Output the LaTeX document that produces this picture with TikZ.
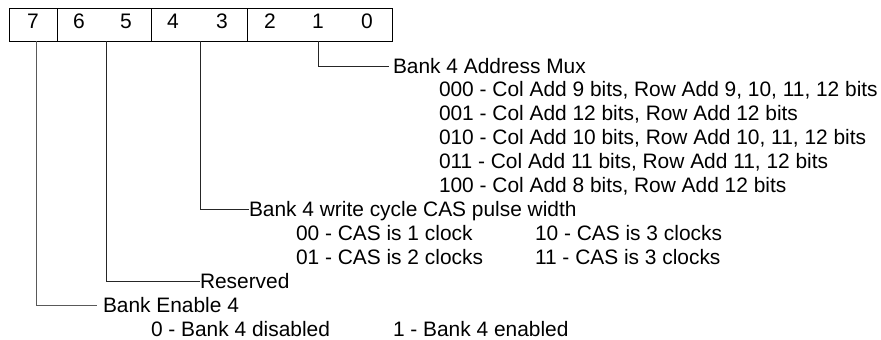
\documentclass[tikz,border=0pt]{standalone}
\usepackage{fontspec}
\setmainfont{Liberation Sans}
\tikzset{
  lbl/.style={anchor=base west, inner sep=0pt, outer sep=0pt, text height=14.9pt, text depth=0pt,
    font=\fontsize{20.9}{24}\selectfont},
  bitnum/.style={anchor=base, inner sep=0pt, font=\fontsize{21}{24}\selectfont},
  wire/.style={line width=0.9pt, black!85},
  boxline/.style={line width=0.9pt, black}
}
\begin{document}
\begin{tikzpicture}[x=1pt,y=-1pt]
\useasboundingbox (0,0) rectangle (881,340);
% register box
\draw[boxline] (9,8) rectangle (392,41);
\draw[boxline] (57,8) -- (57,41) (151,8) -- (151,41) (247,8) -- (247,41);
\node[bitnum] (d7) at (33,28.5) {7};
\node[bitnum] (d6) at (79,28.5) {6};
\node[bitnum] (d5) at (126,28.5) {5};
\node[bitnum] (d4) at (173,28.5) {4};
\node[bitnum] (d3) at (222,28.5) {3};
\node[bitnum] (d2) at (270,28.5) {2};
\node[bitnum] (d1) at (318,28.5) {1};
\node[bitnum] (d0) at (367,28.5) {0};
\coordinate (b7) at (36,41);
\coordinate (b65) at (106,41);
\coordinate (b43) at (200,41);
\coordinate (b20) at (318,41);
% Bank 4 Address Mux
\node[lbl] (mux) at (393,73.4) {Bank 4 Address Mux};
\node[lbl] (m0) at (439,96.4) {000 - Col Add 9 bits, Row Add 9, 10, 11, 12 bits};
\node[lbl] (m1) at (439,120.4) {001 - Col Add 12 bits, Row Add 12 bits};
\node[lbl] (m2) at (439,144.4) {010 - Col Add 10 bits, Row Add 10, 11, 12 bits};
\node[lbl] (m3) at (439,168.4) {011 - Col Add 11 bits, Row Add 11, 12 bits};
\node[lbl] (m4) at (439,192.4) {100 - Col Add 8 bits, Row Add 12 bits};
% CAS pulse width
\node[lbl] (cas) at (249,216.4) {Bank 4 write cycle CAS pulse width};
\node[lbl] (c0) at (296,240.4) {00 - CAS is 1 clock};
\node[lbl] (c2) at (535,240.4) {10 - CAS is 3 clocks};
\node[lbl] (c1) at (296,264.4) {01 - CAS is 2 clocks};
\node[lbl] (c3) at (535,264.4) {11 - CAS is 3 clocks};
% Reserved
\node[lbl] (res) at (200,288.4) {Reserved};
% Bank enable
\node[lbl] (en) at (103,312.4) {Bank Enable 4};
\node[lbl] (e0) at (151,336.4) {0 - Bank 4 disabled};
\node[lbl] (e1) at (393,336.4) {1 - Bank 4 enabled};
% connectors
\draw[wire] (b20) |- ([xshift=-4pt]mux.west);
\draw[wire] (b43) |- (cas.west);
\draw[wire] (b65) |- (res.west);
\draw[wire, black!65] (b7) |- ([xshift=-6pt]en.west);
\end{tikzpicture}
\end{document}
